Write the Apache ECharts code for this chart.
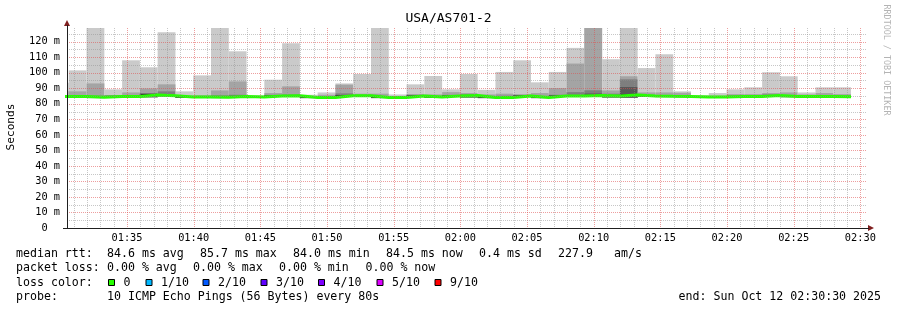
<!DOCTYPE html>
<html><head><meta charset="utf-8">
<script src="https://cdn.jsdelivr.net/npm/echarts@6/dist/echarts.min.js"></script>
<style>html,body{margin:0;padding:0;background:#fff}#c{width:897px;height:310px}</style>
</head><body><div id="c"></div>
<script>
// ---- data ----
const stepSeconds = 80;
const axisStart = '01:30:30';
const axisEnd = '02:30:30';
const sampleEnd = ['01:30:38','01:31:58','01:33:18','01:34:38','01:35:58','01:37:18','01:38:38','01:39:58','01:41:18','01:42:38','01:43:58','01:45:18','01:46:38','01:47:58','01:49:18','01:50:38','01:51:58','01:53:18','01:54:38','01:55:58','01:57:18','01:58:38','01:59:58','02:01:18','02:02:38','02:03:58','02:05:18','02:06:38','02:07:58','02:09:18','02:10:38','02:11:58','02:13:18','02:14:38','02:15:58','02:17:18','02:18:38','02:19:58','02:21:18','02:22:38','02:23:58','02:25:18','02:26:38','02:27:58','02:29:18'];
// sorted ping RTTs (ms) per step, ping1 = fastest ... ping10 = slowest
const ping10 = [93.5,101.5,145,89.3,108,103.5,126,88,98.3,145,113.8,85.4,95.5,119,85.8,87.3,93.1,99.2,145,86,92.5,97.9,89.3,99.2,89,100.5,108,93.8,100.5,116,145,108.7,145,103,111.9,88,85.5,86.9,89.3,90.6,100.3,97.7,87.3,90.6,90.6];
const ping9  = [88,88,93.1,85.6,87.3,89.9,92.5,85.2,85.5,88.6,94.4,85,86.9,91.2,84.9,85.8,92.3,86.5,86.5,85,86.3,86,87.5,86.9,86,86.5,86.2,86.9,90.1,105.9,145,88.6,97.7,87.3,87.3,87.1,85,85.2,86.2,86.2,86.9,87.3,86,86.9,86.2];
const ping8  = [85.5,85.6,85.2,85.2,85.5,86.8,88,84.9,84.9,85.4,85.8,84.8,85.7,86.0,84.6,84.8,86.7,85.8,85.0,84.6,85.6,84.9,85.7,86.0,84.7,85.2,85.6,85.0,85.8,87.5,88.7,86.5,95.7,85.7,85.6,85.5,84.8,84.8,85.3,85.3,85.9,85.4,85.2,85.3,85.2];
const ping7  = [85.1,85.1,84.6,85.1,85.1,86.5,85.6,84.7,84.7,84.6,85.1,84.7,85.4,85.6,84.5,84.5,85.6,85.6,84.5,84.5,85.4,84.7,85.4,85.7,84.5,84.5,85.4,84.5,85.4,85.4,86.6,85.4,90.8,85.4,85.2,85.1,84.7,84.7,85.1,85.1,85.7,85.1,85.1,85.1,85.0];
const ping6  = [84.9,84.9,84.4,84.9,84.9,86.3,85.4,84.5,84.5,84.4,84.9,84.5,85.2,85.4,84.3,84.3,85.4,85.4,84.3,84.3,85.2,84.5,85.2,85.5,84.3,84.3,85.2,84.3,85.2,85.2,85.5,85.2,86.3,85.2,85.0,84.9,84.5,84.5,84.9,84.9,85.5,84.9,84.9,84.9,84.8];
const ping5  = [84.5,84.5,84.0,84.5,84.5,84.4,85.0,84.1,84.1,84.0,84.5,84.1,84.8,85.0,83.9,83.9,85.0,85.0,83.9,83.9,84.8,84.1,84.8,84.3,83.9,83.9,84.8,83.9,84.8,84.8,85.1,84.3,84.2,84.8,84.6,84.5,84.1,84.1,84.5,84.5,85.1,84.5,84.5,84.5,84.4];
const ping4  = [84.4,84.4,83.9,84.4,84.4,84.3,84.9,84.0,84.0,83.9,84.4,84.0,84.7,84.9,83.8,83.8,84.9,84.9,83.8,83.8,84.7,84.0,84.7,84.2,83.8,83.8,84.7,83.8,84.7,84.7,85.0,84.2,84.1,84.7,84.5,84.4,84.0,84.0,84.4,84.4,85.0,84.4,84.4,84.4,84.3];
const ping3  = [84.3,84.3,83.8,84.3,84.3,84.2,84.8,83.9,83.9,83.8,84.3,83.9,84.6,84.8,83.7,83.7,84.8,84.8,83.7,83.7,84.6,83.9,84.6,84.1,83.7,83.7,84.6,83.7,84.6,84.6,84.9,84.1,84.0,84.6,84.4,84.3,83.9,83.9,84.3,84.3,84.9,84.3,84.3,84.3,84.2];
const ping2  = [84.2,84.2,83.7,84.2,84.2,84.1,84.7,83.8,83.8,83.7,84.2,83.8,84.5,84.7,83.6,83.6,84.7,84.7,83.6,83.6,84.5,83.8,84.5,84.0,83.6,83.6,84.5,83.6,84.5,84.5,84.8,84.0,83.9,84.5,84.3,84.2,83.8,83.8,84.2,84.2,84.8,84.2,84.2,84.2,84.1];
const ping1  = [84.1,84.1,83.6,84.1,84.1,84.0,84.6,83.7,83.7,83.6,84.1,83.7,84.4,84.6,83.5,83.5,84.6,84.6,83.5,83.5,84.4,83.7,84.4,83.9,83.5,83.5,84.4,83.5,84.4,84.4,84.7,83.9,83.8,84.4,84.2,84.1,83.7,83.7,84.1,84.1,84.7,84.1,84.1,84.1,84.0];
const medianRtt = [84.7,84.7,84.2,84.7,84.7,85.7,85.2,84.3,84.3,84.2,84.7,84.3,85.0,85.2,84.1,84.1,85.2,85.2,84.1,84.1,85.0,84.3,85.0,85.3,84.1,84.1,85.0,84.1,85.0,85.0,85.3,85.0,85.7,85.0,84.8,84.7,84.3,84.3,84.7,84.7,85.3,84.7,84.7,84.7,84.6];
const yMax = 128.8;
const yStep = 10;
const xLabelStep = 300;   // seconds between time labels
const xMinorStep = 60;    // seconds between minor grid lines
const yMinorStep = 5;

// ---- styles ----
const FONT = 'DejaVu Sans Mono';
const smokeColors = ['#cacaca','#a4a4a4','#7e7e7e','#585858','#323232'];
const medianColor = '#26ff00';
const gridMinor = 'rgba(143,143,143,0.5)';
const gridMajor = 'rgba(222,79,79,0.55)';
const axisColor = '#1f1f1f';
const arrowColor = '#801f1f';

const toSec = s => { const p = s.split(':').map(Number); return p[0]*3600 + p[1]*60 + p[2]; };
const pad = n => String(n).padStart(2,'0');
const fmtHM = v => pad(Math.floor(v/3600)) + ':' + pad(Math.floor((v%3600)/60));
const xMin = toSec(axisStart), xMax = toSec(axisEnd);

const pingRanks = [ping1,ping2,ping3,ping4,ping5,ping6,ping7,ping8,ping9,ping10];
const smokeData = sampleEnd.map((t,i) => {
  const e = toSec(t);
  return [e - stepSeconds, e].concat(pingRanks.map(a => a[i]));
});
const medianData = [];
sampleEnd.forEach((t,i) => { const e = toSec(t); medianData.push([e - stepSeconds, medianRtt[i]]); medianData.push([e, medianRtt[i]]); });

const gridData = [];
for (let t = Math.ceil((xMin+1)/xMinorStep)*xMinorStep; t < xMax; t += xMinorStep) gridData.push([0, t, t % xLabelStep === 0 ? 1 : 0]);
for (let v = yMinorStep; v < yMax; v += yMinorStep) gridData.push([1, v, v % yStep === 0 ? 1 : 0]);

const chart = echarts.init(document.getElementById('c'), null, {renderer:'canvas'});

const legendFont = '11.6px "' + FONT + '"';
function txt(x, y, s, align) {
  return {type:'text', x:x, y:y, silent:true, z:100,
    style:{text:s, font:legendFont, fill:'#000', align:align||'left', verticalAlign:'middle'}};
}
const lossBoxes = [['#26ff00','0',108.5],['#00b8ff','1/10',146],['#0059ff','2/10',203],['#5e00ff','3/10',261],['#7e00ff','4/10',318.5],['#dd00ff','5/10',377],['#ff0000','9/10',435]];
const graphics = [
  {type:'text', x:11, y:127, rotation:Math.PI/2, silent:true,
   style:{text:'Seconds', font:'11.2px "'+FONT+'"', fill:'#000', align:'center', verticalAlign:'middle'}},
  {type:'text', x:886, y:60, rotation:-Math.PI/2, silent:true,
   style:{text:'RRDTOOL / TOBI OETIKER', font:'8.4px "'+FONT+'"', fill:'#b4b4b4', align:'center', verticalAlign:'middle'}},
  // axis arrows
  {type:'polygon', silent:true, z:100, shape:{points:[[64,26],[70,26],[67,20]]}, style:{fill:arrowColor}},
  {type:'line', silent:true, z:100, shape:{x1:67.5,y1:28,x2:67.5,y2:25}, style:{stroke:axisColor,lineWidth:1}},
  {type:'polygon', silent:true, z:100, shape:{points:[[868,225],[868,231],[874,228]]}, style:{fill:arrowColor}},
  {type:'line', silent:true, z:100, shape:{x1:63,y1:228.5,x2:68,y2:228.5}, style:{stroke:axisColor,lineWidth:1}},
  {type:'line', silent:true, z:100, shape:{x1:866,y1:228.5,x2:869,y2:228.5}, style:{stroke:axisColor,lineWidth:1}},
  txt(16,254,'median rtt:'), txt(107,254,'84.6 ms avg'), txt(200,254,'85.7 ms max'), txt(293,254,'84.0 ms min'),
  txt(386,254,'84.5 ms now'), txt(479,254,'0.4 ms sd'), txt(558,254,'227.9'), txt(614,254,'am/s'),
  txt(16,268,'packet loss:'), txt(107,268,'0.00 % avg'), txt(193,268,'0.00 % max'), txt(279,268,'0.00 % min'), txt(365.5,268,'0.00 % now'),
  txt(16,282.5,'loss color:'),
  txt(16,296.5,'probe:'), txt(107,296.5,'10 ICMP Echo Pings (56 Bytes) every 80s'),
  txt(881,296.5,'end: Sun Oct 12 02:30:30 2025','right')
];
lossBoxes.forEach(b => {
  graphics.push({type:'rect', silent:true, z:100, shape:{x:b[2], y:279.5, width:6, height:6}, style:{fill:b[0], stroke:'#000', lineWidth:1}});
  graphics.push(txt(b[2]+15, 282.5, b[1]));
});

chart.setOption({
  animation:false,
  backgroundColor:'#fff',
  title:{text:'USA/AS701-2', left:'center', top:12, padding:0,
    textStyle:{fontFamily:FONT, fontSize:13, fontWeight:'normal', color:'#000'}},
  grid:{left:67, right:30, top:28, bottom:82, containLabel:false},
  xAxis:{type:'value', min:xMin, max:xMax, interval:30, z:10,
    axisLine:{show:true, lineStyle:{color:axisColor, width:1}},
    axisTick:{show:false}, splitLine:{show:false},
    axisLabel:{margin:5, fontFamily:FONT, fontSize:10.3, color:'#000',
      formatter: v => (Math.round(v) % xLabelStep === 0 ? fmtHM(Math.round(v)) : '')}},
  yAxis:{type:'value', min:0, max:yMax, interval:yStep, z:10,
    axisLine:{show:true, lineStyle:{color:axisColor, width:1}},
    axisTick:{show:false}, splitLine:{show:false},
    axisLabel:{margin:7, fontFamily:FONT, fontSize:10.3, color:'#000',
      formatter: v => (v === 0 ? '0  ' : (v > yMax - 5 ? '' : Math.round(v) + ' m'))}},
  graphic:graphics,
  series:[
    {type:'custom', z:2, silent:true, data:smokeData,
      encode:{x:[0,1], y:[2,11]},
      renderItem:(params, api) => {
        const cs = params.coordSys;
        const s = api.value(0), e = api.value(1);
        const children = [];
        for (let b = 0; b < 5; b++) {
          const lo = api.value(2+b), hi = api.value(11-b);
          const p0 = api.coord([s, hi]), p1 = api.coord([e, lo]);
          const r = echarts.graphic.clipRectByRect({x:p0[0], y:p0[1], width:p1[0]-p0[0], height:p1[1]-p0[1]},
            {x:cs.x, y:cs.y, width:cs.width, height:cs.height});
          if (r) children.push({type:'rect', shape:r, style:{fill:smokeColors[b]}});
        }
        return {type:'group', children};
      }},
    {type:'line', z:3, silent:true, data:medianData, symbol:'none', clip:true,
      lineStyle:{color:medianColor, width:3}},
    {type:'custom', z:4, silent:true, data:gridData,
      renderItem:(params, api) => {
        const cs = params.coordSys;
        const dir = api.value(0), val = api.value(1), major = api.value(2);
        const style = {stroke: major ? gridMajor : gridMinor, lineWidth:1, lineDash:[1,1]};
        if (dir === 0) {
          const x = Math.round(api.coord([val, 0])[0]) + 0.5;
          return {type:'line', shape:{x1:x, y1:cs.y, x2:x, y2:cs.y+cs.height}, style};
        }
        const y = Math.round(api.coord([xMin, val])[1]) + 0.5;
        return {type:'line', shape:{x1:cs.x, y1:y, x2:cs.x+cs.width, y2:y}, style};
      }}
  ]
});
</script></body></html>
